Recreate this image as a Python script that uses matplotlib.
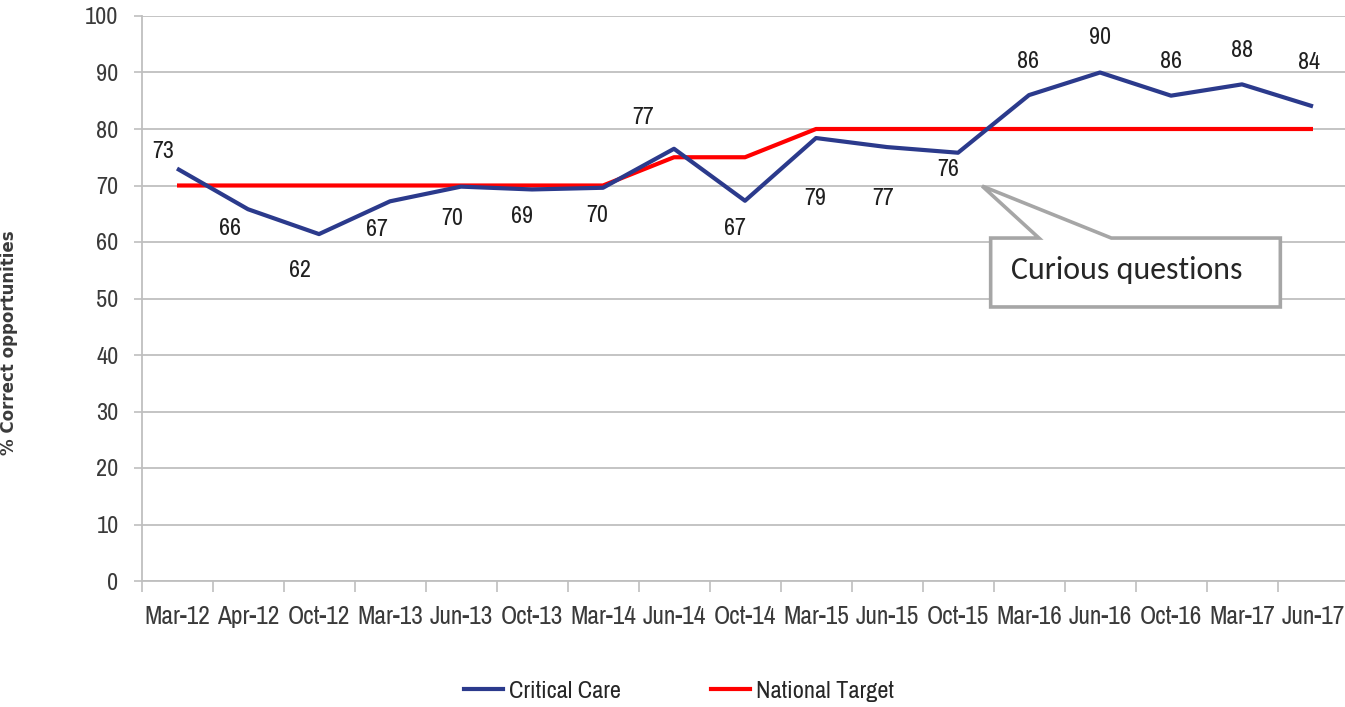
import matplotlib
matplotlib.use("Agg")
import matplotlib.pyplot as plt
from matplotlib.patches import Polygon
from matplotlib.lines import Line2D
import logging
logging.getLogger("matplotlib.font_manager").setLevel(logging.ERROR)

categories = ["Mar-12", "Apr-12", "Oct-12", "Mar-13", "Jun-13", "Oct-13", "Mar-14", "Jun-14",
              "Oct-14", "Mar-15", "Jun-15", "Oct-15", "Mar-16", "Jun-16", "Oct-16", "Mar-17", "Jun-17"]
critical_care = [73.0, 65.8, 61.4, 67.2, 69.8, 69.3, 69.6, 76.5, 67.3, 78.4, 76.8, 75.8,
                 86.0, 90.0, 85.9, 87.9, 84.0]
critical_labels = ["73", "66", "62", "67", "70", "69", "70", "77", "67", "79", "77", "76",
                   "86", "90", "86", "88", "84"]
national_target = [70, 70, 70, 70, 70, 70, 70, 75, 75, 80, 80, 80, 80, 80, 80, 80, 80]
y_ticks = [0, 10, 20, 30, 40, 50, 60, 70, 80, 90, 100]

# label offsets in pixels (dx, dy) relative to each point
label_offsets = [(-14, 17), (-18, -19), (-19, -36), (-13, -28), (-9, -32), (-10, -27), (-6, -28),
                 (-31, 31), (-10, -28), (-1, -60), (-4, -51), (-10, -17), (-1, 34), (0, 35),
                 (0, 34), (0, 34), (-4, 44)]

FONT = ["Liberation Sans Narrow", "Archivo Narrow", "Lato", "DejaVu Sans"]
CALL_FONT = ["Carlito", "Lato", "DejaVu Sans"]
TXT = "#3A3A3A"
GRID = "#BFBFBF"
BLUE = "#2B3A8C"
RED = "#FF0000"

W, H = 1345, 707
fig = plt.figure(figsize=(W / 100, H / 100), dpi=100)
renderer = fig.canvas.get_renderer()


def fit_size(text, target_px, family, weight="normal"):
    t = fig.text(0, 0, text, fontsize=10, family=family, fontweight=weight)
    w = t.get_window_extent(renderer).width
    t.remove()
    return 10 * target_px / w


xtick_fs = fit_size("Mar-12", 66, FONT)
ytick_fs = fit_size("100", 33, FONT)
dlab_fs = fit_size("73", 22, FONT)
leg_fs = fit_size("Critical Care", 113, FONT)
call_fs = fit_size("Curious questions", 232, CALL_FONT)

ax = fig.add_axes([141.5 / W, 1 - 581 / H, (1348.5 - 141.5) / W, (581 - 16) / H])

x = list(range(len(categories)))
ax.set_xlim(-0.5, len(categories) - 0.5)
ax.set_ylim(0, 100)

ax.set_yticks(y_ticks)
ax.set_yticklabels([str(v) for v in y_ticks], fontfamily=FONT, fontsize=ytick_fs, color=TXT)
ax.yaxis.grid(True, color=GRID, linewidth=1.3)
ax.set_axisbelow(True)
ax.tick_params(axis="y", length=6, width=1.2, color=GRID, pad=10.5)

ax.set_xticks(x)
ax.set_xticklabels(categories, fontfamily=FONT, fontsize=xtick_fs, color=TXT)
ax.set_xticks([i + 0.5 for i in range(-1, len(categories))], minor=True)
ax.tick_params(axis="x", which="major", length=0, pad=17)
ax.tick_params(axis="x", which="minor", length=8, width=1.2, color=GRID)

for s in ["top", "right"]:
    ax.spines[s].set_visible(False)
for s in ["left", "bottom"]:
    ax.spines[s].set_color(GRID)
    ax.spines[s].set_linewidth(1.3)

ax.plot(x, national_target, color=RED, linewidth=3.0, solid_capstyle="butt", zorder=3,
        label="National Target")
ax.plot(x, critical_care, color=BLUE, linewidth=3.0, solid_capstyle="butt", zorder=4,
        label="Critical Care")

for xi, yi, lab, (dx, dy) in zip(x, critical_care, critical_labels, label_offsets):
    ax.annotate(lab, xy=(xi, yi), xytext=(dx, dy), textcoords="offset pixels",
                ha="center", va="center", fontfamily=FONT, fontsize=dlab_fs, color="#202020",
                zorder=5)

ax.set_ylabel("% Correct opportunities", fontfamily="DejaVu Sans", fontweight="bold",
              fontsize=12, color=TXT)
ax.yaxis.set_label_coords(-(141.5 - 18) / (1348.5 - 141.5), (581 - 343) / (581 - 16))

# callout box "Curious questions"
call = Polygon([(11.46, 60.7), (12.14, 60.7), (11.34, 69.9), (13.16, 60.7), (15.54, 60.7),
                (15.54, 48.5), (11.46, 48.5)], closed=True, facecolor="white",
               edgecolor="#A6A6A6", linewidth=2.6, zorder=6, joinstyle="miter")
ax.add_patch(call)
ax.text(11.75, 55.0, "Curious questions", ha="left", va="center",
        fontfamily=CALL_FONT, fontsize=call_fs, color="#262626", zorder=7)

handles = [Line2D([], [], color=BLUE, linewidth=3.0),
           Line2D([], [], color=RED, linewidth=3.0)]
fig.legend(handles, ["Critical Care", "National Target"], loc="center",
           bbox_to_anchor=(679 / W, 1 - 691 / H), ncol=2, frameon=False,
           prop={"family": FONT, "size": leg_fs}, handlelength=1.6, handletextpad=0.25,
           columnspacing=3.7, labelcolor="#262626")

fig.savefig("out.png", dpi=100, facecolor="white")
